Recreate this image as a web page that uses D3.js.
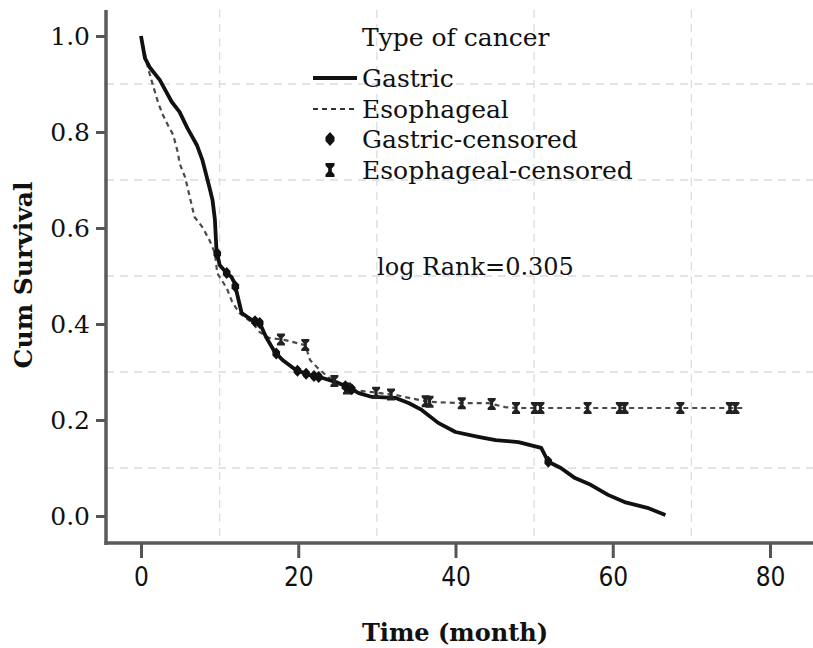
<!DOCTYPE html>
<html>
<head>
<meta charset="utf-8">
<script src="https://cdn.jsdelivr.net/npm/d3@7"></script>
<style>
  html, body { margin: 0; padding: 0; background: #fff; }
  svg { display: block; }
  text { font-family: "DejaVu Serif", serif; fill: #111; }
</style>
</head>
<body>
<svg id="chart" width="813" height="648"></svg>
<script>
// ---------------- data ----------------
const xTicks = [0, 20, 40, 60, 80];
const yTicks = [0.0, 0.2, 0.4, 0.6, 0.8, 1.0];
const xGrid = [10, 30, 50, 70];
const yGrid = [0.1, 0.3, 0.5, 0.7, 0.9];

// Gastric survival (months, cumulative survival)
const gastricTime = [0, 0.5, 1.1, 2.4, 3.9, 4.9, 5.9, 7.1, 7.8, 8.7, 9.1, 9.4, 9.6, 10.0, 10.9, 11.5, 11.9, 12.8, 14.1, 15.1, 15.9, 17.0, 18.0, 19.7, 21.4, 23.0, 24.8, 26.5, 27.7, 29.4, 32.4, 34.1, 35.7, 37.8, 40.0, 42.9, 45.1, 48.0, 50.9, 51.8, 53.4, 55.2, 57.2, 59.4, 61.5, 64.4, 66.7];
const gastricSurv = [1.0, 0.954, 0.935, 0.908, 0.863, 0.842, 0.808, 0.773, 0.742, 0.685, 0.658, 0.617, 0.554, 0.523, 0.506, 0.498, 0.485, 0.423, 0.408, 0.402, 0.373, 0.342, 0.325, 0.304, 0.294, 0.288, 0.279, 0.267, 0.256, 0.248, 0.246, 0.235, 0.221, 0.194, 0.175, 0.165, 0.158, 0.154, 0.142, 0.113, 0.100, 0.079, 0.065, 0.044, 0.029, 0.017, 0.002];
const gastricCensored = [9.7, 10.9, 12.0, 14.5, 15.1, 17.2, 19.9, 21.0, 22.0, 22.6, 26.0, 26.8, 51.8];

// Esophageal survival
const esoTime = [0, 0.9, 1.4, 2.2, 2.8, 3.4, 4.1, 4.7, 4.9, 5.6, 6.2, 6.8, 7.8, 8.7, 9.4, 9.7, 10.0, 10.9, 11.6, 12.5, 14.2, 15.1, 16.3, 18.2, 20.9, 21.5, 22.5, 23.9, 26.5, 29.4, 32.4, 34.1, 36.6, 40.8, 44.2, 46.3, 47.6, 76.5];
const esoSurv = [1.0, 0.933, 0.904, 0.860, 0.835, 0.815, 0.794, 0.756, 0.735, 0.706, 0.665, 0.623, 0.602, 0.575, 0.548, 0.506, 0.498, 0.475, 0.446, 0.423, 0.402, 0.383, 0.371, 0.367, 0.356, 0.325, 0.308, 0.288, 0.263, 0.258, 0.252, 0.246, 0.238, 0.235, 0.235, 0.227, 0.225, 0.225];
const esoCensored = [17.8, 20.9, 24.6, 26.2, 29.9, 31.8, 36.2, 36.7, 40.8, 44.6, 47.7, 50.1, 50.8, 56.8, 60.9, 61.5, 68.6, 74.9, 75.6];

const legendTitle = "Type of cancer";
const legendLabels = ["Gastric", "Esophageal", "Gastric-censored", "Esophageal-censored"];
const statText = "log Rank=0.305";
const xTitle = "Time (month)";
const yTitle = "Cum Survival";

// ---------------- drawing ----------------
const svg = d3.select("#chart");
const frame = { left: 106, right: 813, top: 10, bottom: 543 };
const x = d3.scaleLinear().domain([0, 80]).range([141, 770]);
const y = d3.scaleLinear().domain([0, 1]).range([516, 36]);

// grid
const grid = svg.append("g").attr("stroke", "#dcdcdc").attr("stroke-width", 1.3).attr("stroke-dasharray", "8,6");
grid.selectAll("line.v").data(xGrid).join("line").attr("class", "v")
  .attr("x1", d => x(d)).attr("x2", d => x(d)).attr("y1", frame.top).attr("y2", frame.bottom);
grid.selectAll("line.h").data(yGrid).join("line").attr("class", "h")
  .attr("x1", frame.left).attr("x2", frame.right).attr("y1", d => y(d)).attr("y2", d => y(d));

// axes with d3
const yAxis = d3.axisLeft(y).tickValues(yTicks).tickFormat(d3.format(".1f")).tickSize(10).tickPadding(6);
const gy = svg.append("g").attr("transform", `translate(${frame.left},0)`).call(yAxis);
gy.select(".domain").remove();
gy.selectAll(".tick line").attr("stroke", "#555").attr("stroke-width", 3);
gy.selectAll(".tick text").style("font-family", "DejaVu Serif, serif").style("font-size", "25px").attr("fill", "#111").attr("dy", "0.35em");

const xAxis = d3.axisBottom(x).tickValues(xTicks).tickFormat(d3.format("d")).tickSize(15).tickPadding(10);
const gx = svg.append("g").attr("transform", `translate(0,${frame.bottom})`).call(xAxis);
gx.select(".domain").remove();
gx.selectAll(".tick line").attr("stroke", "#555").attr("stroke-width", 3);
gx.selectAll(".tick text").style("font-family", "DejaVu Sans Condensed, sans-serif").style("font-size", "26px").attr("fill", "#111");

// frame lines (left and bottom)
svg.append("line").attr("x1", frame.left).attr("x2", frame.left).attr("y1", frame.top).attr("y2", frame.bottom + 2)
  .attr("stroke", "#5a5a5a").attr("stroke-width", 3.5);
svg.append("line").attr("x1", frame.left - 1.5).attr("x2", frame.right).attr("y1", frame.bottom).attr("y2", frame.bottom)
  .attr("stroke", "#5a5a5a").attr("stroke-width", 3.5);

// curves
const line = d3.line().x(d => x(d[0])).y(d => y(d[1])).curve(d3.curveLinear);
const esoData = esoTime.map((t, i) => [t, esoSurv[i]]);
const gasData = gastricTime.map((t, i) => [t, gastricSurv[i]]);

svg.append("path").datum(esoData).attr("d", line).attr("fill", "none")
  .attr("stroke", "#4a4a4a").attr("stroke-width", 2.2).attr("stroke-dasharray", "5,4");
svg.append("path").datum(gasData).attr("d", line).attr("fill", "none")
  .attr("stroke", "#111").attr("stroke-width", 3.8).attr("stroke-linejoin", "round");

// censor markers
const gasInterp = d3.scaleLinear().domain(gastricTime).range(gastricSurv);
const esoInterp = d3.scaleLinear().domain(esoTime).range(esoSurv);
const diamond = "M0,-6 L3.8,-2 L3.8,2 L0,6 L-3.8,2 L-3.8,-2 Z";
const hourglass = "M-4,-6 H4 V-4 L1.5,-1.5 V1.5 L4,4 V6 H-4 V4 L-1.5,1.5 V-1.5 L-4,-4 Z";

svg.append("g").selectAll("path").data(esoCensored).join("path")
  .attr("d", hourglass).attr("fill", "#222")
  .attr("transform", d => `translate(${x(d)},${y(esoInterp(d))})`);
svg.append("g").selectAll("path").data(gastricCensored).join("path")
  .attr("d", diamond).attr("fill", "#111")
  .attr("transform", d => `translate(${x(d)},${y(gasInterp(d))})`);

// legend
const lg = svg.append("g");
lg.append("text").attr("x", 362).attr("y", 46).style("font-size", "25px").text(legendTitle);
const rows = [78, 109, 139, 170];
lg.append("line").attr("x1", 313).attr("x2", 357).attr("y1", rows[0]).attr("y2", rows[0]).attr("stroke", "#111").attr("stroke-width", 4);
lg.append("line").attr("x1", 313).attr("x2", 357).attr("y1", rows[1]).attr("y2", rows[1]).attr("stroke", "#333").attr("stroke-width", 2).attr("stroke-dasharray", "5,4");
lg.append("path").attr("d", "M0,-7 L4.5,-2 L4.5,2 L0,7 L-4.5,2 L-4.5,-2 Z").attr("fill", "#111").attr("transform", `translate(330,${rows[2]})`);
lg.append("path").attr("d", "M-4.5,-7 H4.5 V-4.5 L1.8,-1.5 V1.5 L4.5,4.5 V7 H-4.5 V4.5 L-1.8,1.5 V-1.5 L-4.5,-4.5 Z").attr("fill", "#111").attr("transform", `translate(330,${rows[3]})`);
lg.selectAll("text.lab").data(legendLabels).join("text").attr("class", "lab")
  .attr("x", 362).attr("y", (d, i) => rows[i]).attr("dy", "0.35em").style("font-size", "25px").text(d => d);

// stat text
svg.append("text").attr("x", 377).attr("y", 267).attr("dy", "0.35em").style("font-size", "24px").text(statText);

// axis titles
svg.append("text").attr("x", 455).attr("y", 641).attr("text-anchor", "middle")
  .style("font-size", "24px").style("font-weight", "bold").text(xTitle);
svg.append("text").attr("transform", "translate(32,275) rotate(-90)").attr("text-anchor", "middle")
  .style("font-size", "25px").style("font-weight", "bold").text(yTitle);
</script>
</body>
</html>
